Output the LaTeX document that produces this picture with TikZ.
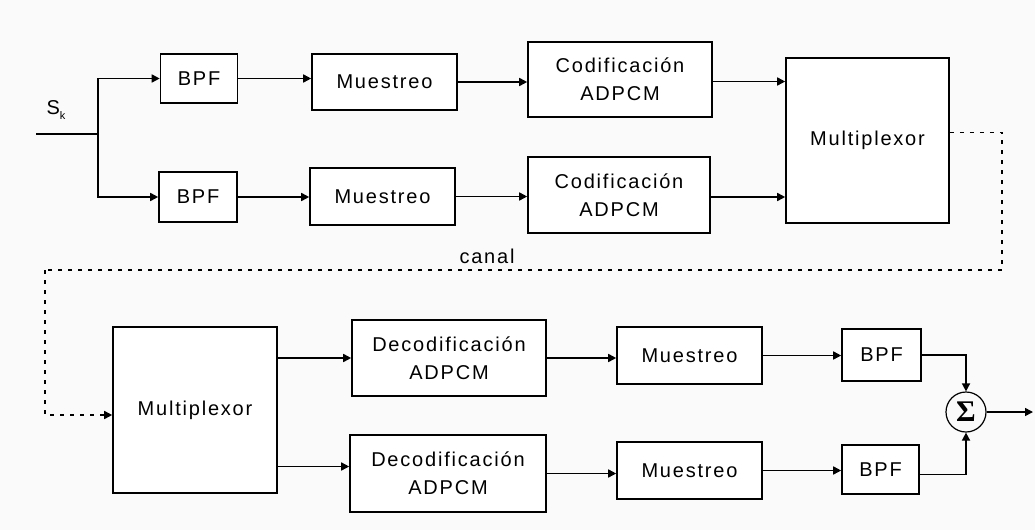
\documentclass[tikz,border=0pt]{standalone}
\usepackage{fontspec}
\setmainfont{Liberation Sans}[LetterSpace=9]
\newfontfamily\sigfont{Liberation Serif}
\usetikzlibrary{arrows.meta}
\definecolor{paper}{RGB}{250,250,250}
\begin{document}
\begin{tikzpicture}[x=1pt,y=-1pt,
  line width=1.6pt,
  every node/.style={font=\fontsize{20}{28}\selectfont, align=center},
  blk/.style={draw, fill=white, line width=1.6pt, inner sep=0pt},
  arr/.style={-{Triangle[length=8pt,width=8pt]}},
  chan/.style={line width=1.6pt, dash pattern=on 4pt off 6pt}]
  % page
  \fill[paper] (0,0) rectangle (1035,530);
  \useasboundingbox (0,0) rectangle (1035,530);

  % transmitter
  \node[blk, minimum width=77pt, minimum height=49pt] (bpf1) at (199,78.5) {BPF};
  \node[blk, minimum width=78pt, minimum height=50pt] (bpf2) at (198,197) {BPF};
  \node[blk, minimum width=145pt, minimum height=56pt] (mue1) at (384.5,82) {Muestreo};
  \node[blk, minimum width=145pt, minimum height=57pt] (mue2) at (382.5,196.5) {Muestreo};
  \node[blk, minimum width=184pt, minimum height=75pt] (cod1) at (620,79.5) {Codificación\\ADPCM};
  \node[blk, minimum width=182pt, minimum height=76pt] (cod2) at (619,195) {Codificación\\ADPCM};
  \node[blk, minimum width=163pt, minimum height=165pt] (mux1) at (867.5,140.5) {Multiplexor};

  % receiver
  \node[blk, minimum width=164pt, minimum height=166pt] (mux2) at (195,410) {Multiplexor};
  \node[blk, minimum width=194pt, minimum height=76pt] (dec1) at (449,358) {Decodificación\\ADPCM};
  \node[blk, minimum width=196pt, minimum height=77pt] (dec2) at (448,473.5) {Decodificación\\ADPCM};
  \node[blk, minimum width=145pt, minimum height=57pt] (mue3) at (689.5,355.5) {Muestreo};
  \node[blk, minimum width=145pt, minimum height=57pt] (mue4) at (689.5,470.5) {Muestreo};
  \node[blk, minimum width=79pt, minimum height=52pt] (bpf3) at (881.5,355) {BPF};
  \node[blk, minimum width=77pt, minimum height=49pt] (bpf4) at (880.5,469.5) {BPF};
  \node[draw, circle, minimum size=40pt, inner sep=0pt, line width=1.2pt] (sum) at (966,412)
    {\sigfont\bfseries\fontsize{30}{30}\selectfont Σ};

  % input split
  \coordinate (in) at (36,134);
  \coordinate (br) at (98,134);
  \node (sk) at (56,110) {S\raisebox{-5pt}{\fontsize{11}{11}\selectfont k}};
  \draw (in) -- (br);
  \draw[arr] (br) |- (bpf1.west);
  \draw[arr] (br) |- (bpf2.west);

  % transmitter chains
  \draw[arr] (bpf1.east) -- (bpf1.east -| mue1.west);
  \draw[arr] (bpf2.east) -- (bpf2.east -| mue2.west);
  \draw[arr] (mue1.east) -- (mue1.east -| cod1.west);
  \draw[arr] (mue2.east) -- (mue2.east -| cod2.west);
  \draw[arr] ([yshift=-2pt]cod1.east) -- ([yshift=-2pt]cod1.east -| mux1.west);
  \draw[arr] ([yshift=-2pt]cod2.east) -- ([yshift=-2pt]cod2.east -| mux1.west);

  % channel
  \coordinate (ch1) at (1002,270);
  \coordinate (ch2) at (45,270);
  \draw[chan] ([yshift=8pt]mux1.east) -| (ch1) -- (ch2);
  \draw[chan, arr] (ch2) |- ([yshift=-5pt]mux2.west);
  \node (canal) at (487,256) {canal};

  % receiver chains
  \draw[arr] (mux2.east |- dec1.west) -- (dec1.west);
  \draw[arr] ([yshift=7pt]mux2.east |- dec2.west) -- ([yshift=7pt]dec2.west);
  \draw[arr] (dec1.east) -- (dec1.east -| mue3.west);
  \draw[arr] (dec2.east) -- (dec2.east -| mue4.west);
  \draw[arr] (mue3.east) -- (mue3.east -| bpf3.west);
  \draw[arr] (mue4.east) -- (mue4.east -| bpf4.west);

  % summation
  \draw[arr] (bpf3.east) -| (sum.north);
  \draw[arr] ([yshift=-5pt]bpf4.east) -| (sum.south);
  \coordinate (out) at (1033,412);
  \draw[arr] (sum.east) -- (out);
\end{tikzpicture}
\end{document}
